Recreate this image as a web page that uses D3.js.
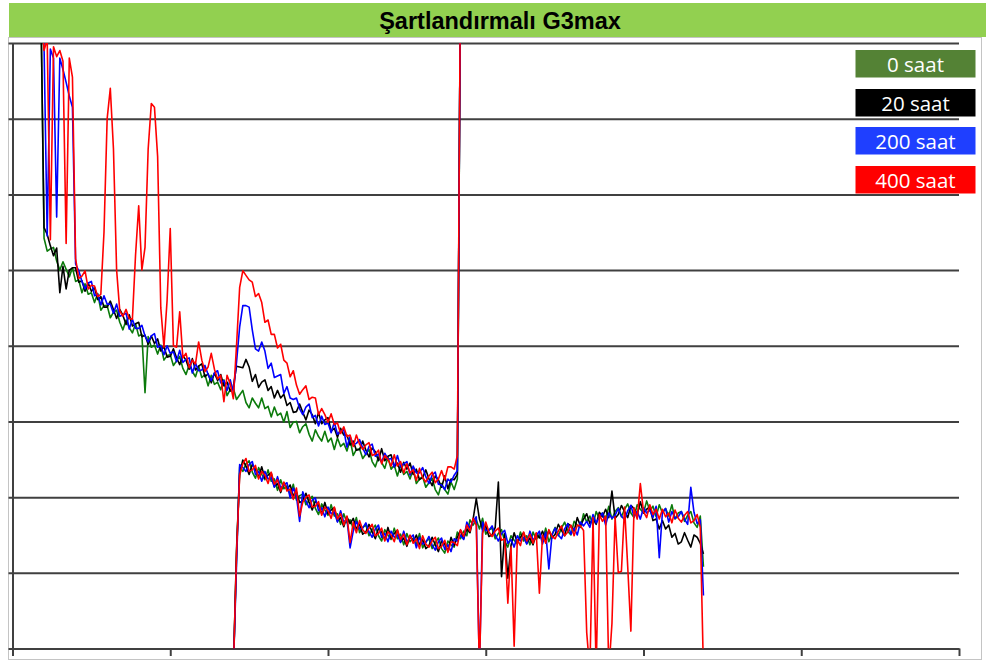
<!DOCTYPE html>
<html><head><meta charset="utf-8">
<script src="https://cdn.jsdelivr.net/npm/d3@7/dist/d3.min.js"></script>
<style>body{margin:0;background:#fff}</style>
</head><body>
<svg id="c" width="986" height="661"></svg>
<script>
const title = "Şartlandırmalı G3max";
const seriesNames = ["0 saat", "20 saat", "200 saat", "400 saat"];
const xTicks = [0, 100, 200, 300, 400, 500, 600];
const yTicks = [0, 10, 20, 30, 40, 50, 60, 70, 80];
// sampling grid of the recorded curves (x units)
const upperStart = 18, lowerStart = 140, stepX = 2;

// upper branch (x = 18 .. 284)
const upper0 = [85,54.2,52.5,52.8,53.0,51.2,50.0,51.1,50.1,49.1,
 50.3,48.5,48.7,47.0,48.2,46.8,47.0,45.7,46.9,44.7,
 45.3,45.3,43.7,44.4,44.7,43.1,42.1,43.4,42.4,41.7,
 42.9,41.3,41.5,33.8,41.2,39.8,40.1,38.9,40.1,38.1,
 38.7,38.8,37.4,38.0,38.6,37.0,36.2,37.5,36.6,35.9,
 37.3,35.8,36.2,34.7,36.1,34.9,35.2,34.2,35.5,33.4,
 34.2,34.4,32.9,33.5,34.1,32.5,31.8,33.1,32.4,31.8,
 33.1,31.7,32.0,30.6,31.9,30.8,31.1,29.9,31.3,29.2,
 29.9,30.0,28.5,29.3,29.7,28.3,27.4,28.9,28.0,27.4,
 28.7,27.3,27.8,26.3,27.8,26.7,27.1,26.1,27.6,25.5,
 26.3,26.4,25.1,25.7,26.3,24.7,24.0,25.3,24.6,23.8,
 25.3,23.7,24.2,22.8,24.2,23.0,23.4,22.4,23.7,21.8,
 22.4,22.7,21.3,21.9,22.5,21.0,20.3,21.8,21.0,20.4,
 22.0,21.0,22.4,90];
const upper20 = [85,55.6,54.7,53.2,51.9,52.9,47.0,50.5,47.5,50.0,
 50.3,50.3,48.4,48.6,47.2,48.3,47.2,47.7,46.1,46.5,
 45.1,45.1,45.9,44.8,43.6,44.8,44.0,42.8,44.1,42.6,
 42.9,43.1,41.2,41.4,40.2,41.3,40.3,40.9,39.3,39.9,
 38.5,38.6,39.6,38.4,37.5,38.7,38.1,36.9,38.3,36.8,
 37.3,37.6,35.9,36.3,35.1,36.4,35.4,36.2,34.7,35.2,
 34.0,34.6,37.3,37.2,37.1,38.2,37.2,35.3,36.2,34.5,
 35.2,35.5,34.1,34.6,33.1,34.1,33.1,33.6,32.1,32.5,
 31.2,31.3,32.3,31.2,30.2,31.5,30.9,29.7,31.2,29.7,
 30.2,30.5,28.7,29.1,27.9,29.1,28.2,28.2,26.9,27.4,
 26.2,26.3,27.4,26.2,25.3,26.5,26.0,24.8,26.4,24.8,
 25.4,25.6,24.0,24.5,23.3,24.6,23.7,24.5,23.0,23.7,
 22.3,22.6,23.6,22.4,21.5,22.8,22.3,21.3,22.8,21.1,
 22.4,22.3,23.0,90];
const upper200 = [85,79.5,54.5,79.2,78.0,57.0,78.0,76.5,74.8,73.0,
 71.5,50.8,49.9,48.5,47.5,48.3,48.5,46.6,46.8,45.4,
 46.6,45.5,45.5,44.3,45.5,43.9,44.1,44.3,42.2,43.5,
 42.3,42.3,42.7,41.3,40.5,41.3,41.6,39.8,40.0,38.8,
 40.0,39.0,39.2,37.9,39.4,37.8,38.2,38.4,36.4,37.7,
 36.7,36.8,37.4,36.2,35.4,36.4,36.7,35.1,35.4,34.1,
 35.5,33.9,37.8,42.5,45.3,45.3,45.1,42.1,39.6,39.3,
 40.5,39.3,37.0,37.7,35.8,36.0,36.2,33.7,34.6,33.1,
 32.9,33.1,31.7,30.9,31.9,32.3,30.5,30.8,29.4,30.7,
 29.6,29.8,28.5,29.9,28.3,28.7,28.9,26.6,28.0,26.9,
 27.1,27.6,26.5,25.6,26.7,27.0,25.4,25.7,24.6,25.8,
 25.0,25.1,24.0,25.5,24.0,24.4,24.7,22.9,24.1,23.2,
 23.2,23.9,22.7,21.8,22.9,23.3,21.7,21.6,21.0,22.4,
 22.0,22.9,23.5,90];
const upper400 = [85,79.0,80.5,54.0,79.5,78.2,79.0,77.6,53.5,78.0,
 75.5,51.5,48.9,49.2,49.9,47.5,48.0,47.9,46.5,46.8,
 55.0,70.0,74.0,66.0,50.0,44.6,43.9,44.8,43.6,43.5,
 52.0,58.5,50.0,53.0,66.0,72.0,71.5,65.0,45.0,39.8,
 46.0,55.5,40.0,39.8,44.5,38.4,39.0,37.1,38.1,37.6,
 40.5,38.1,36.6,37.2,39.0,36.9,35.6,36.1,32.6,36.1,
 35.0,33.0,40.0,47.7,49.9,49.3,48.7,48.4,46.5,46.9,
 45.7,43.1,43.4,41.5,41.5,39.7,40.2,38.1,37.7,35.9,
 36.7,34.8,33.6,34.2,34.7,32.9,33.2,33.1,30.9,31.7,
 30.9,29.9,31.0,29.6,29.8,28.4,29.3,28.0,28.2,26.7,
 28.2,27.0,26.3,26.9,27.2,25.5,25.7,26.2,24.4,25.5,
 25.0,24.1,25.6,24.1,24.7,23.2,24.4,23.2,23.6,22.2,
 23.8,22.6,22.0,22.8,23.3,21.9,22.4,23.5,22.3,24.0,
 24.0,23.7,25.5,90];

// lower branch (x = 140 .. 440)
const lower0 = [-3,12,24.0,23.4,24.4,24.8,23.3,22.5,23.9,23.0,
 22.3,23.6,22.1,22.4,20.9,22.3,21.1,21.5,20.3,21.7,
 19.6,20.2,20.4,19.0,19.6,20.1,18.5,17.7,19.1,18.3,
 17.6,19.0,17.5,17.8,16.4,17.8,16.6,17.0,15.9,17.3,
 15.3,16.0,16.3,14.9,15.7,16.3,14.9,14.2,15.7,15.0,
 14.4,15.9,14.5,15.1,13.7,15.2,14.1,14.6,13.7,15.2,
 13.3,14.1,14.5,13.2,14.0,14.6,13.2,12.6,14.2,13.7,
 13.4,15.4,14.5,15.5,14.9,17.0,16.3,17.0,15.8,17.2,
 15.1,15.7,15.9,14.5,15.2,15.7,14.2,13.4,14.9,14.3,
 13.8,15.4,14.2,14.9,13.7,15.4,14.4,15.1,14.2,15.9,
 14.1,15.1,16.0,14.9,15.9,16.7,15.5,15.0,16.8,16.3,
 16.0,17.8,16.7,17.5,16.3,18.1,17.2,17.9,17.1,18.8,
 17.1,18.1,18.6,17.4,18.4,19.1,17.9,17.3,19.0,18.4,
 17.9,19.5,18.2,18.8,17.4,19.0,17.9,18.5,17.5,19.0,
 17.1,17.9,18.1,16.8,17.6,18.1,16.6,16.0,17.5,10.8,
 null];
const lower20 = [-3,13,23.1,24.9,24.1,23.0,24.3,23.7,22.6,24.0,
 22.5,22.9,23.2,21.4,21.8,20.6,21.9,21.0,21.6,20.2,
 20.7,19.3,19.5,20.5,19.3,18.3,19.5,18.9,17.8,19.3,
 17.8,18.3,18.6,16.8,17.3,16.1,17.4,16.5,17.2,15.8,
 16.4,15.1,15.4,16.4,15.4,14.5,15.9,15.4,14.4,16.0,
 14.6,15.2,15.6,14.1,14.6,13.5,14.9,14.1,15.0,13.7,
 14.4,13.2,13.6,14.7,13.7,12.8,14.2,13.8,12.9,14.7,
 13.6,14.7,15.6,14.5,15.8,15.3,17.1,19.8,17.1,15.7,
 16.2,14.8,15.0,16.0,22.0,9.5,15.2,9.3,13.6,15.3,
 14.0,14.7,15.3,13.9,14.6,13.7,15.2,14.6,15.5,14.4,
 15.6,14.6,15.1,16.4,15.6,14.9,16.5,16.2,15.5,17.3,
 16.2,17.1,17.8,16.5,17.2,16.4,18.0,17.4,18.4,17.3,
 20.8,17.2,17.7,18.9,18.1,17.3,18.9,18.5,17.7,19.4,
 17.9,18.4,18.7,16.9,17.1,15.8,16.9,15.8,16.3,14.7,
 15.2,13.8,14.1,15.3,14.3,13.4,15.0,14.7,13.9,12.5,
 null];
const lower200 = [-3,11,24.3,23.9,23.4,24.3,24.7,23.0,23.4,22.1,
 23.4,22.4,22.6,21.3,22.7,21.2,21.6,21.9,19.9,21.2,
 20.1,16.8,20.7,19.5,18.6,19.6,19.9,18.2,18.6,17.4,
 18.7,17.8,18.0,16.7,18.2,16.7,17.1,13.3,15.5,16.8,
 15.8,15.9,16.6,15.4,14.7,15.8,16.3,14.7,15.2,14.1,
 15.5,14.7,15.0,14.0,15.5,14.1,14.6,15.0,13.3,14.7,
 13.8,14.0,14.8,13.7,13.0,14.1,14.6,13.1,13.7,12.8,
 14.5,14.2,15.0,14.4,16.7,15.9,16.8,17.4,-3,16.7,
 15.6,15.6,16.2,15.0,14.2,15.2,15.6,13.9,14.4,13.4,
 14.9,14.2,14.7,13.8,15.5,14.3,14.9,15.5,13.8,15.4,
 10.5,15.0,15.9,15.0,14.5,15.8,16.5,15.1,15.9,15.0,
 16.7,16.2,16.8,16.0,17.7,16.6,17.3,17.9,16.3,17.9,
 17.2,17.6,18.5,17.5,17.0,18.2,18.9,17.4,18.1,17.1,
 18.6,17.9,18.3,17.3,18.8,12.0,18.0,18.5,16.7,18.1,
 17.2,17.4,18.1,17.1,16.4,21.3,18.0,16.5,17.0,7.0,
 null];
const lower400 = [-3,12.5,22.9,24.4,25.1,23.4,23.6,24.2,22.4,23.4,
 22.9,21.8,23.3,21.7,22.3,20.8,22.0,20.8,21.1,19.7,
 21.2,17.5,19.3,20.0,20.3,18.7,18.8,19.4,17.6,18.7,
 18.2,17.2,18.7,17.1,17.8,16.3,17.5,14.0,16.7,15.3,
 16.9,15.7,15.2,15.9,16.4,14.9,15.2,15.9,14.2,15.4,
 15.0,14.1,15.7,14.4,15.1,13.7,15.0,13.9,14.5,13.2,
 14.9,13.8,13.4,14.2,14.7,13.2,13.5,14.3,12.7,14.1,
 14.0,13.6,15.7,14.8,16.3,15.5,17.2,16.3,-3,15.2,
 16.7,15.4,14.8,15.5,15.9,14.3,14.5,6.0,13.4,0.3,
 14.4,13.6,15.4,14.2,15.1,13.9,15.3,7.3,15.0,13.9,
 15.7,14.8,14.5,15.5,16.2,14.9,15.4,16.3,14.9,16.3,
 16.2,15.6,2.1,-3,17.3,-3,17.7,16.8,17.5,-3,
 3.3,17.4,10.0,10.2,18.7,10.8,2.3,18.6,17.1,21.8,
 18.1,17.3,19.0,17.7,18.4,17.1,18.4,17.4,17.9,16.6,
 18.3,17.2,16.7,17.6,18.1,16.6,16.9,17.7,16.0,-3,
 null];

const upperSeries = [upper0, upper20, upper200, upper400];
const lowerSeries = [lower0, lower20, lower200, lower400];
const lineColors = ["#0b7a0b", "#000000", "#0000ff", "#ff0000"];
const legendColors = ["#548235", "#000000", "#1f3fff", "#ff0000"];

const svg = d3.select("#c");
const x = d3.scaleLinear().domain([0, 600]).range([12.5, 959]);
const y = d3.scaleLinear().domain([0, 80]).range([648.5, 43]);

// chart border
svg.append("rect").attr("x", 8.5).attr("y", 37.5).attr("width", 973).attr("height", 622)
  .attr("fill", "none").attr("stroke", "#c4c4c4").attr("stroke-width", 1);

// title bar
svg.append("rect").attr("x", 9).attr("y", 3).attr("width", 977).attr("height", 34).attr("fill", "#92d050");
svg.append("text").attr("x", 500).attr("y", 29).attr("text-anchor", "middle")
  .attr("font-family", "'Liberation Sans', Arial, sans-serif").attr("font-weight", "bold")
  .attr("font-size", "23.5px").attr("fill", "#000").text(title);

// gridlines
const grid = svg.append("g").attr("transform", "translate(12.5,0)")
  .call(d3.axisLeft(y).tickValues(yTicks).tickSize(-(959 - 12.5)).tickFormat(""));
grid.select(".domain").remove();
grid.selectAll(".tick line").attr("x1", -4).attr("stroke", "#404040").attr("stroke-width", 2);

// left axis line
const yAxis = svg.append("g").attr("transform", "translate(12.5,0)")
  .call(d3.axisLeft(y).tickValues([]).tickSize(0).tickFormat(""));
yAxis.select(".domain").attr("stroke", "#404040").attr("stroke-width", 2);

// bottom axis
const xAxis = svg.append("g").attr("transform", "translate(0,648.5)")
  .call(d3.axisBottom(x).tickValues(xTicks).tickSize(7.5).tickSizeOuter(0).tickFormat(""));
xAxis.select(".domain").attr("stroke", "#404040").attr("stroke-width", 2);
xAxis.selectAll(".tick line").attr("stroke", "#404040").attr("stroke-width", 2);

// curves
svg.append("clipPath").attr("id", "plot").append("rect")
  .attr("x", 12.5).attr("y", 43).attr("width", 959 - 12.5).attr("height", 648.5 - 43);
const line = d3.line().defined(d => d[1] !== null).x(d => x(d[0])).y(d => y(d[1]));
const curves = svg.append("g").attr("clip-path", "url(#plot)");
for (let s = 0; s < 4; s++) {
  const up = upperSeries[s].map((v, i) => [upperStart + i * stepX, v]);
  const lo = lowerSeries[s].map((v, i) => [lowerStart + i * stepX, v]);
  [up, lo].forEach(pts => {
    curves.append("path").datum(pts).attr("d", line).attr("fill", "none")
      .attr("stroke", lineColors[s]).attr("stroke-width", 1.6)
      .attr("stroke-linejoin", "round");
  });
}

// legend
const legY = [50, 89, 127, 166];
const leg = svg.append("g");
seriesNames.forEach((name, i) => {
  leg.append("rect").attr("x", 855.5).attr("y", legY[i]).attr("width", 120).attr("height", 27.5)
    .attr("fill", legendColors[i]);
  leg.append("text").attr("x", 915.5).attr("y", legY[i] + 21.5).attr("text-anchor", "middle")
    .attr("font-family", "'Open Sans', sans-serif").attr("font-size", "20.5px")
    .attr("fill", "#fff").text(name);
});
</script>
</body></html>
